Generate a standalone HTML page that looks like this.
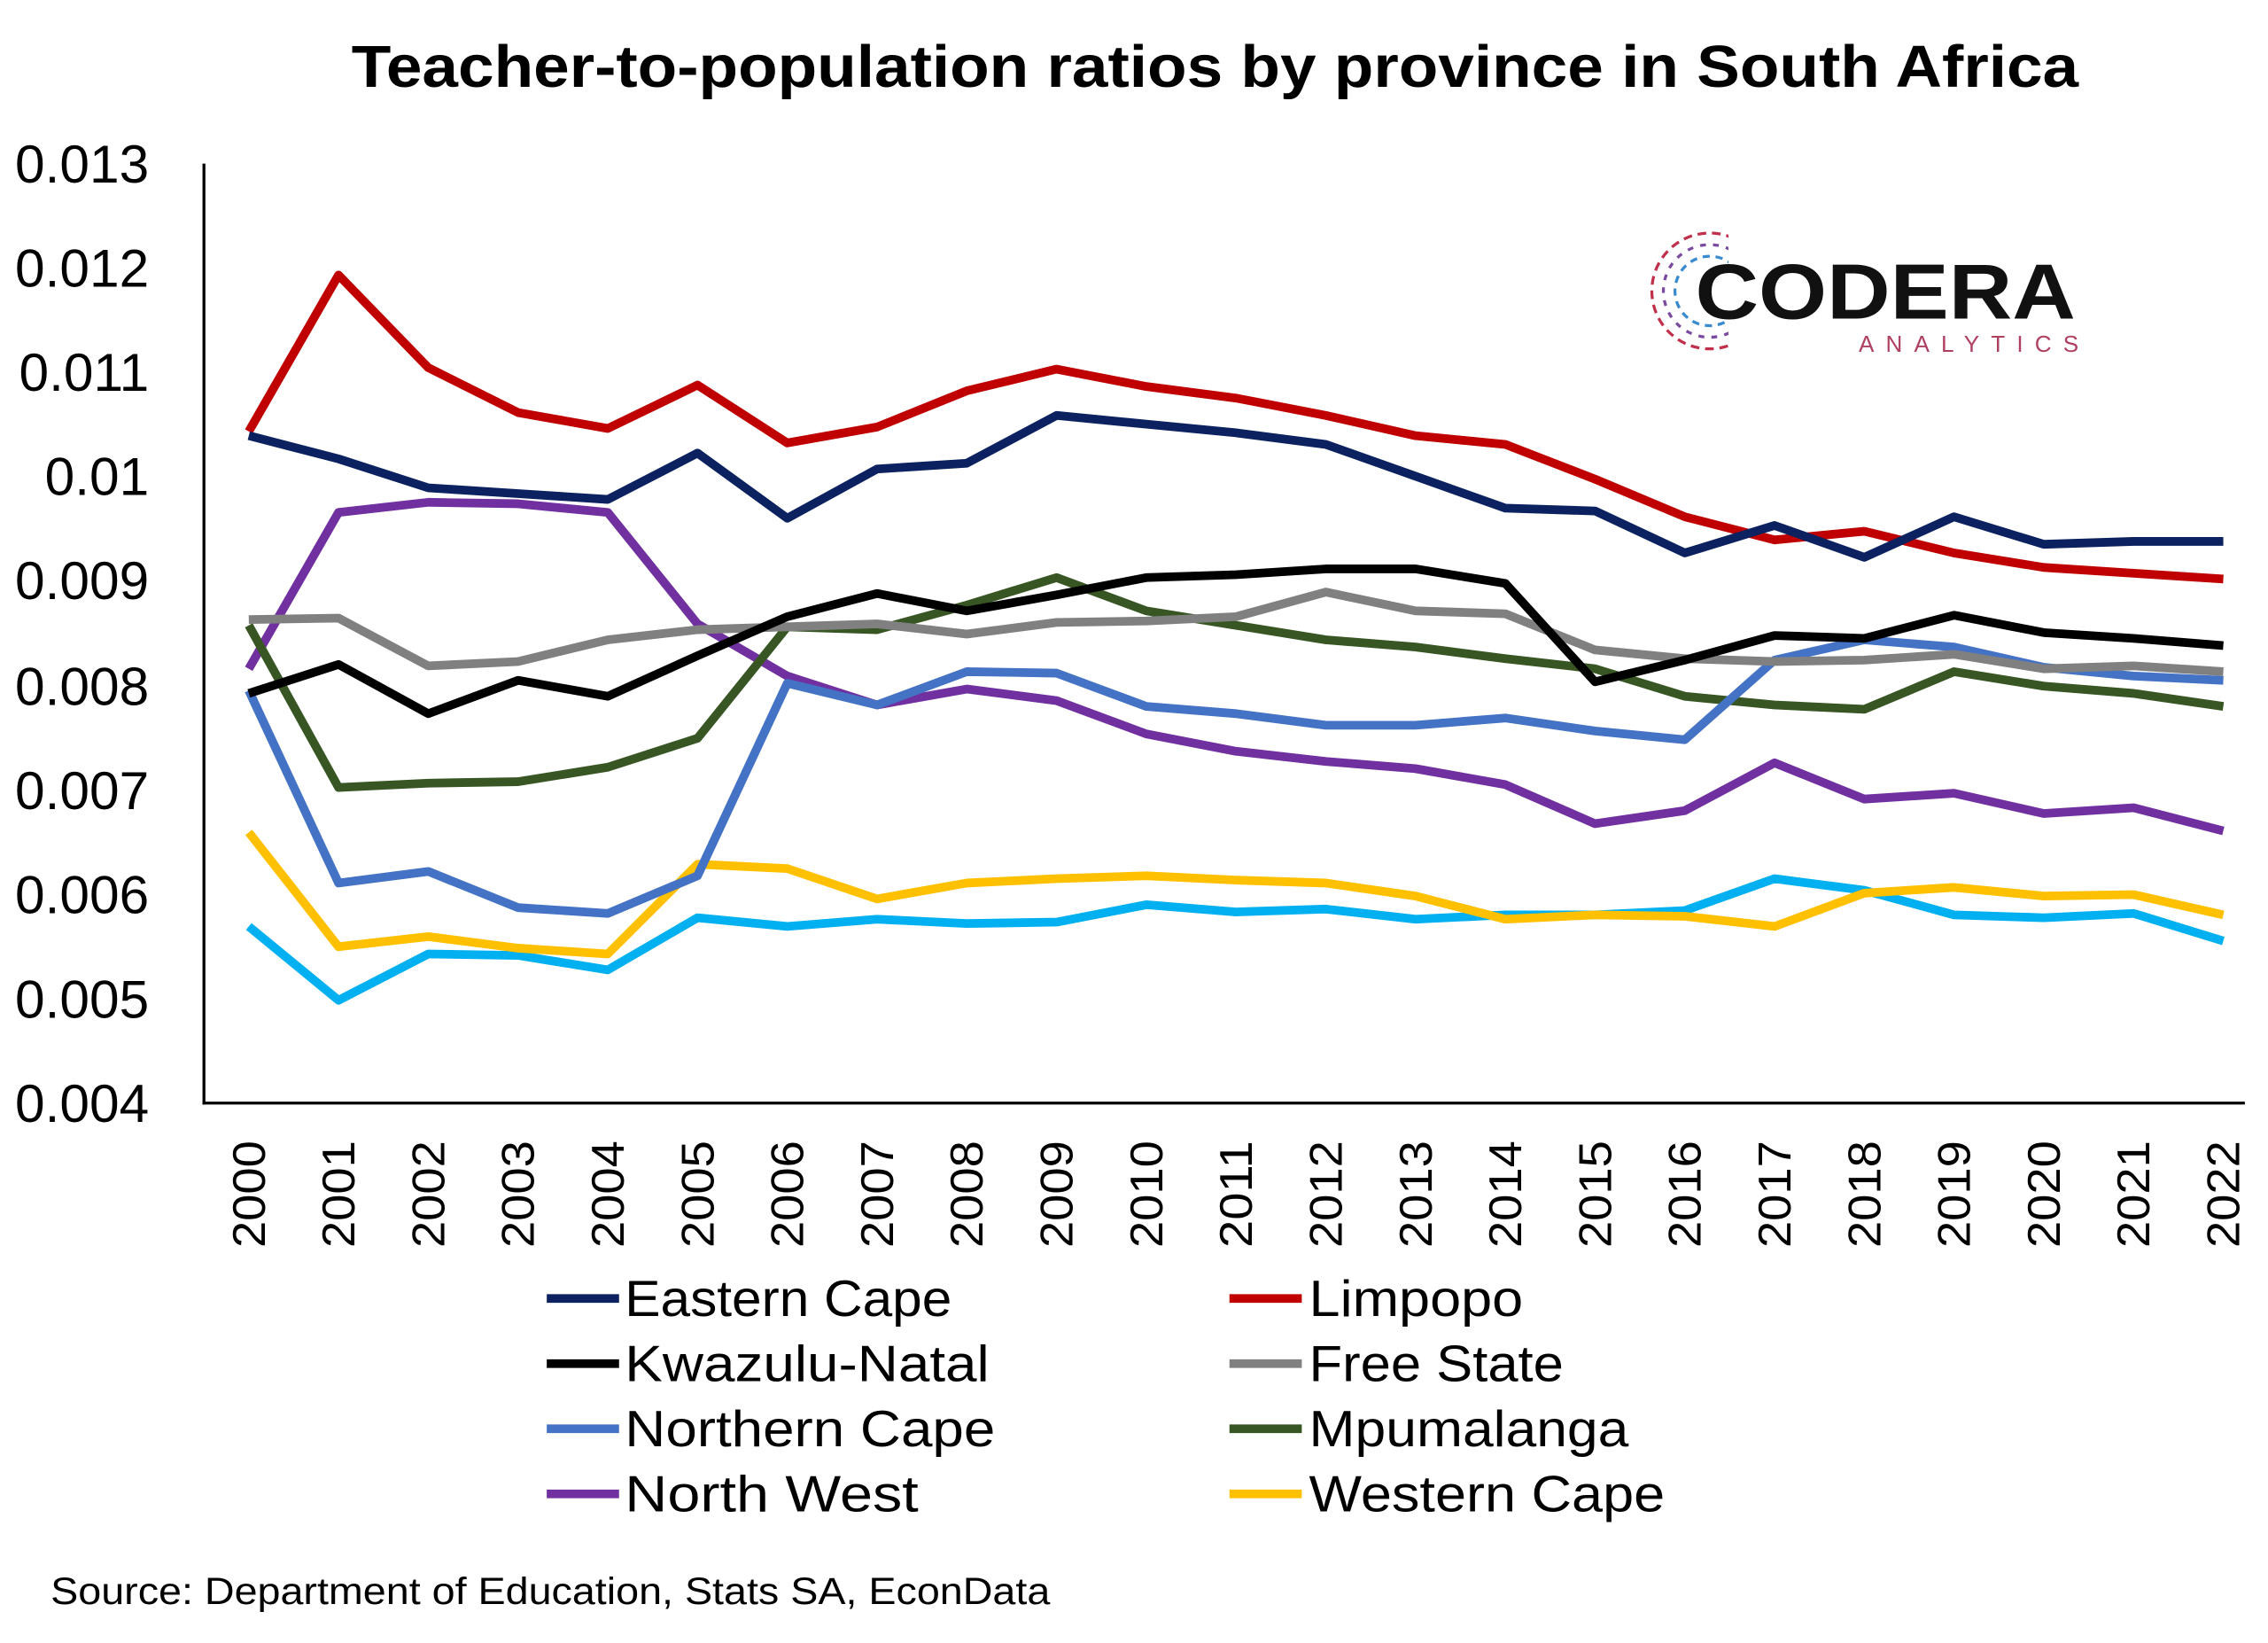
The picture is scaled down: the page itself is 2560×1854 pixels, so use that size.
<!DOCTYPE html>
<html><head><meta charset="utf-8"><style>html,body{margin:0;padding:0;background:#fff}svg{display:block}</style></head>
<body>
<svg width="2560" height="1854" viewBox="0 0 1568 1135" preserveAspectRatio="none" xmlns="http://www.w3.org/2000/svg" font-family="Liberation Sans, sans-serif">
<rect width="1568" height="1135" fill="#fff"/>
<text x="243" y="60" font-size="41" font-weight="bold" fill="#000" textLength="1194" lengthAdjust="spacingAndGlyphs">Teacher-to-population ratios by province in South Africa</text>
<g font-size="37" text-anchor="end" fill="#000">
<text x="103" y="126">0.013</text><text x="103" y="198">0.012</text><text x="103" y="270">0.011</text><text x="103" y="342">0.01</text><text x="103" y="414">0.009</text><text x="103" y="487">0.008</text><text x="103" y="559">0.007</text><text x="103" y="631">0.006</text><text x="103" y="703">0.005</text><text x="103" y="775">0.004</text>
</g>
<line x1="141" y1="113" x2="141" y2="763" stroke="#000" stroke-width="2"/>
<line x1="140" y1="762" x2="1552" y2="762" stroke="#000" stroke-width="2"/>
<g id="xl" font-size="32" text-anchor="end" fill="#000"></g>
<g fill="none" stroke-width="6" stroke-linejoin="round" id="series"></g>
<g font-size="35" fill="#000">
<line x1="378" y1="897" x2="428" y2="897" stroke="#0b2160" stroke-width="6"/><text x="432" y="909" textLength="226" lengthAdjust="spacingAndGlyphs">Eastern Cape</text>
<line x1="850" y1="897" x2="900" y2="897" stroke="#c00000" stroke-width="6"/><text x="905" y="909" textLength="148" lengthAdjust="spacingAndGlyphs">Limpopo</text>
<line x1="378" y1="942" x2="428" y2="942" stroke="#000" stroke-width="6"/><text x="432" y="954" textLength="252" lengthAdjust="spacingAndGlyphs">Kwazulu-Natal</text>
<line x1="850" y1="942" x2="900" y2="942" stroke="#808080" stroke-width="6"/><text x="905" y="954" textLength="176" lengthAdjust="spacingAndGlyphs">Free State</text>
<line x1="378" y1="987" x2="428" y2="987" stroke="#4472c4" stroke-width="6"/><text x="432" y="999" textLength="256" lengthAdjust="spacingAndGlyphs">Northern Cape</text>
<line x1="850" y1="987" x2="900" y2="987" stroke="#375623" stroke-width="6"/><text x="905" y="999" textLength="221" lengthAdjust="spacingAndGlyphs">Mpumalanga</text>
<line x1="378" y1="1032" x2="428" y2="1032" stroke="#7030a0" stroke-width="6"/><text x="432" y="1044" textLength="203" lengthAdjust="spacingAndGlyphs">North West</text>
<line x1="850" y1="1032" x2="900" y2="1032" stroke="#ffc000" stroke-width="6"/><text x="905" y="1044" textLength="246" lengthAdjust="spacingAndGlyphs">Western Cape</text>
</g>
<text x="35" y="1108" font-size="26" fill="#000" textLength="691" lengthAdjust="spacingAndGlyphs">Source: Department of Education, Stats SA, EconData</text>
<g fill="none" stroke-width="2">
<circle cx="1182" cy="201" r="40" stroke="#c0304a" stroke-dasharray="6 4"/>
<circle cx="1182" cy="201" r="32" stroke="#7a4aa0" stroke-dasharray="4 5"/>
<circle cx="1182" cy="201" r="24" stroke="#3a8ad0" stroke-dasharray="5 4"/>
</g>
<rect x="1195" y="160" width="50" height="90" fill="#fff"/>
<text x="1172" y="220" font-size="54" font-weight="bold" fill="#111" textLength="263" lengthAdjust="spacingAndGlyphs">CODERA</text>
<text x="1285" y="243" font-size="16" fill="#b04060" textLength="152">ANALYTICS</text>
<script>
var xs=[],i;for(i=0;i<23;i++)xs.push(172+i*62.05);
var xl=document.getElementById('xl');
for(i=0;i<23;i++){var t=document.createElementNS('http://www.w3.org/2000/svg','text');t.setAttribute('transform','translate('+(xs[i]+11)+',788) rotate(-90)');t.setAttribute('textLength','74');t.setAttribute('lengthAdjust','spacingAndGlyphs');t.textContent=2000+i;xl.appendChild(t);}
var S=[
['#00b0f0',[640,691,659,660,670,634,640,635,638,637,625,630,628,635,632,632,629,607,615,632,634,631,650]],
['#ffc000',[575,654,647,655,659,597,600,621,610,607,605,608,610,619,635,632,633,640,617,613,619,618,632]],
['#7030a0',[462,354,347,348,354,431,467,487,476,484,507,519,526,531,542,569,560,527,552,548,562,558,574]],
['#375623',[432,544,541,540,530,510,433,435,418,399,422,432,442,447,455,462,481,487,490,464,474,479,488]],
['#4472c4',[477,610,602,627,631,605,472,487,464,465,488,493,501,501,496,505,511,456,442,447,461,467,470]],
['#808080',[428,427,460,457,442,435,433,431,438,430,429,426,409,422,424,449,455,457,456,452,462,460,464]],
['#000000',[479,459,493,470,481,453,426,410,422,411,399,397,393,393,403,471,456,439,441,425,437,441,446]],
['#c00000',[298,190,254,285,296,266,306,295,270,255,267,275,287,301,307,331,357,373,367,382,392,396,400]],
['#0b2160',[301,317,337,341,345,313,358,324,320,287,293,299,307,329,351,353,382,363,385,357,376,374,374]]];
var g=document.getElementById('series');
S.forEach(function(s){var p=document.createElementNS('http://www.w3.org/2000/svg','polyline');p.setAttribute('points',s[1].map(function(y,j){return xs[j]+','+y}).join(' '));p.setAttribute('stroke',s[0]);g.appendChild(p);});
</script>
</svg>
</body></html>
